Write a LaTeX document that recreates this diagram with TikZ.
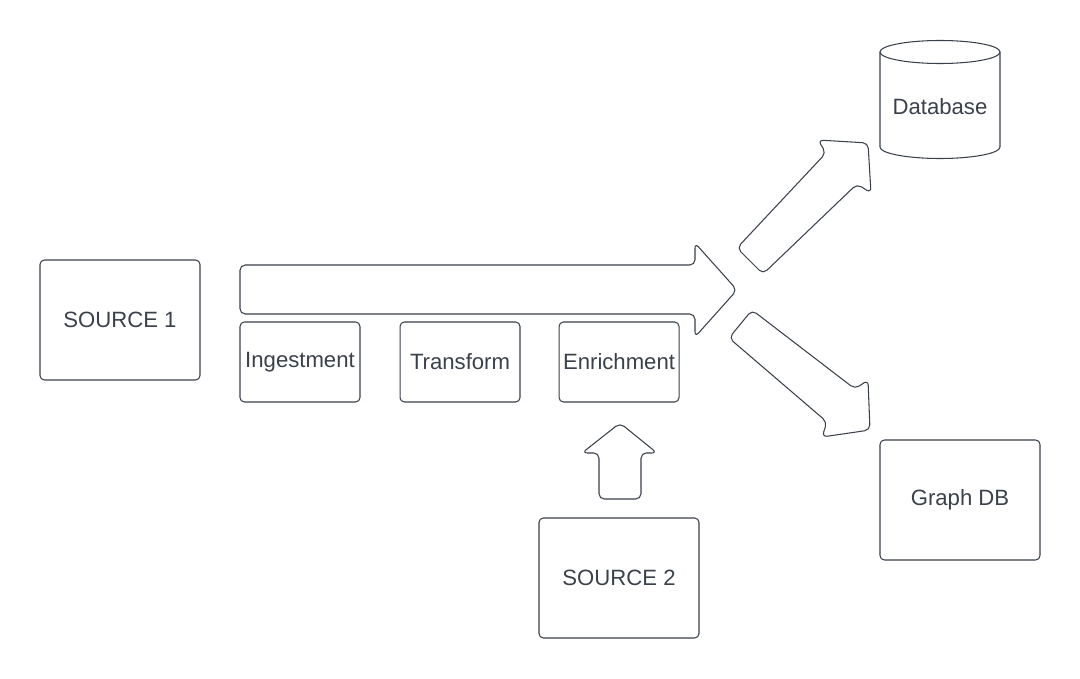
\documentclass[tikz,border=0pt]{standalone}
\usepackage{fontspec}
\setmainfont{Liberation Sans}
\usetikzlibrary{positioning}
\definecolor{linegray}{RGB}{58,65,74}
\tikzset{
  box/.style={draw=linegray,line width=0.6pt,rounded corners=2.5pt,text=linegray,font=\fontsize{12.6}{14}\selectfont,inner sep=0pt},
  bigbox/.style={box,minimum width=3.2cm,minimum height=2.4cm},
  stagebox/.style={box,minimum width=2.4cm,minimum height=1.6cm},
  flow/.style={draw=linegray,line width=0.6pt,rounded corners=3pt,line join=round},
  cyl/.style={draw=linegray,line width=0.6pt}
}
\begin{document}
\begin{tikzpicture}[x=0.02cm,y=-0.02cm]
\useasboundingbox (0,0) rectangle (1080,679);

\node[bigbox](src1) at (120,320){SOURCE 1};
\node[stagebox](ingest) at (300,362){Ingestment};
\node[stagebox,right=0.78cm of ingest](transform){Transform};
\node[stagebox,right=0.76cm of transform](enrich){Enrichment};
\node[bigbox](src2) at (619,578){SOURCE 2};
\node[bigbox](graphdb) at (960,500){Graph DB};

% database cylinder
\draw[cyl] (880,52) -- (880,147) arc[start angle=180,end angle=360,x radius=1.2cm,y radius=0.23cm] -- (1000,52);
\draw[cyl] (940,52) ellipse[x radius=1.2cm,y radius=0.23cm];
\node[text=linegray,font=\fontsize{12.6}{14}\selectfont](database) at (940,107){Database};

% block arrows
\draw[flow] (240,265) -- (695,265) -- (695,243) -- (737,290) -- (695,337) -- (695,314) -- (240,314) -- cycle;
\draw[flow] (599,499) -- (599,453) -- (582,453) -- (620,423) -- (657,453) -- (641,453) -- (641,499) -- cycle;
\draw[flow] (737,248) -- (826,153) -- (818,140) -- (868,143) -- (871,193) -- (857,184) -- (763,274) -- cycle;
\draw[flow] (752,310) -- (855,389) -- (868,380) -- (870,430) -- (822,437) -- (827,422) -- (729,338) -- cycle;
\end{tikzpicture}
\end{document}
